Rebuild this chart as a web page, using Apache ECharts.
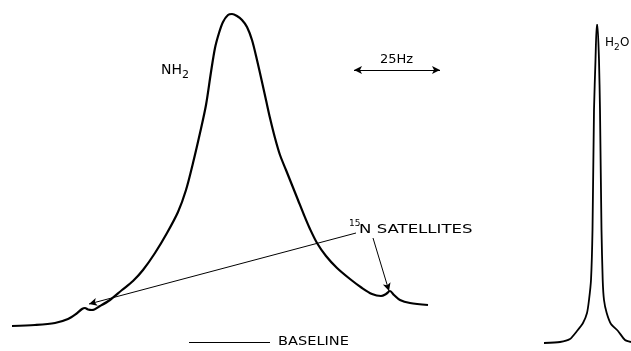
<!DOCTYPE html>
<html>
<head>
<meta charset="utf-8">
<script src="https://cdn.jsdelivr.net/npm/echarts@6/dist/echarts.min.js"></script>
<style>
  html, body { margin: 0; padding: 0; background: #fff; }
  #chart { width: 631px; height: 351px; }
</style>
</head>
<body>
<div id="chart"></div>
<script>
// NH2 trace (position, height measured down from the top of the sheet)
const nhX = [12, 35, 55, 68, 76, 82, 85, 88, 92, 100, 110, 122, 133, 143, 155, 167, 178, 186, 193, 200,
  206, 211, 215, 219, 223, 228, 232, 237, 242, 247, 252, 257, 262, 266, 270, 275, 280, 286, 292, 298,
  304, 310, 317, 326, 337, 350, 362, 372, 381, 386, 390, 394, 400, 410, 428]
const nhY = [326, 325, 323, 319, 314, 309, 308, 309.5, 310, 306, 300, 290, 281, 270, 253, 233, 212, 190, 163, 133,
  105, 72, 48, 33, 22, 15, 14, 16, 20, 27, 40, 60, 82, 100, 118, 138, 155, 170, 185, 200,
  215, 229, 243, 256, 268, 279, 288, 294, 296, 294, 291, 295, 300, 303, 305]

// H2O trace
const h2oX = [544, 560, 570, 577, 583, 587, 589, 591, 592.5, 594, 595.5, 596.7, 597.5, 599, 600, 601.5, 602.7, 604, 606.7, 611, 618, 625, 631]
const h2oY = [343, 342, 339, 331, 323, 313, 300, 280, 230, 110, 60, 25, 25, 60, 110, 230, 280, 300, 313, 324, 331, 340, 342]

// annotation pointers: [x1, y1, x2, y2]
const satArrows = [[356, 233, 89, 304], [373, 238, 389, 291]]
const hzArrow = [354, 70, 440, 70]
const baseLine = [189, 342, 270, 342]

const chart = echarts.init(document.getElementById('chart'))

const seg = (s) => [{ coord: [s[0], s[1]] }, { coord: [s[2], s[3]] }]
const blk = { color: '#000', fontFamily: 'DejaVu Sans' }

chart.setOption({
  animation: false,
  grid: { left: 0, right: 0, top: 0, bottom: 0 },
  xAxis: { type: 'value', min: 0, max: 631, show: false },
  yAxis: { type: 'value', min: 0, max: 351, inverse: true, show: false },
  series: [
    {
      type: 'line',
      data: nhX.map((x, i) => [x, nhY[i]]),
      smooth: 0.3,
      symbol: 'none',
      lineStyle: { color: '#000', width: 2.2 },
      markLine: {
        silent: true,
        symbol: ['none', 'arrow'],
        symbolSize: [6, 8],
        label: { show: false },
        lineStyle: { color: '#000', width: 1, type: 'solid' },
        data: satArrows.map(seg)
      }
    },
    {
      type: 'line',
      data: h2oX.map((x, i) => [x, h2oY[i]]),
      smooth: 0.2,
      symbol: 'none',
      lineStyle: { color: '#000', width: 1.8 },
      markLine: {
        silent: true,
        symbol: ['arrow', 'arrow'],
        symbolSize: [6, 8],
        label: { show: false },
        lineStyle: { color: '#000', width: 1.2, type: 'solid' },
        data: [seg(hzArrow)]
      }
    },
    {
      type: 'line',
      data: [],
      markLine: {
        silent: true,
        symbol: ['none', 'none'],
        label: { show: false },
        lineStyle: { color: '#000', width: 1.2, type: 'solid' },
        data: [seg(baseLine)]
      }
    }
  ],
  graphic: [
    { type: 'text', left: 161, top: 63, style: { ...blk, text: 'NH', fontSize: 14 } },
    { type: 'text', left: 182, top: 70, style: { ...blk, text: '2', fontSize: 11 } },
    { type: 'text', left: 380, top: 53, style: { ...blk, text: '25Hz', fontSize: 13 } },
    { type: 'text', left: 349, top: 219, style: { ...blk, text: '15', fontSize: 9 } },
    { type: 'text', x: 359, y: 224, scaleX: 1.38, style: { ...blk, text: 'N SATELLITES', fontSize: 12 } },
    { type: 'text', x: 278, y: 335, scaleX: 1.12, style: { ...blk, text: 'BASELINE', fontSize: 13 } },
    { type: 'text', left: 605, top: 37, style: { ...blk, text: 'H', fontSize: 12 } },
    { type: 'text', left: 614, top: 43, style: { ...blk, text: '2', fontSize: 9 } },
    { type: 'text', left: 620, top: 37, style: { ...blk, text: 'O', fontSize: 12 } }
  ]
})
</script>
</body>
</html>
